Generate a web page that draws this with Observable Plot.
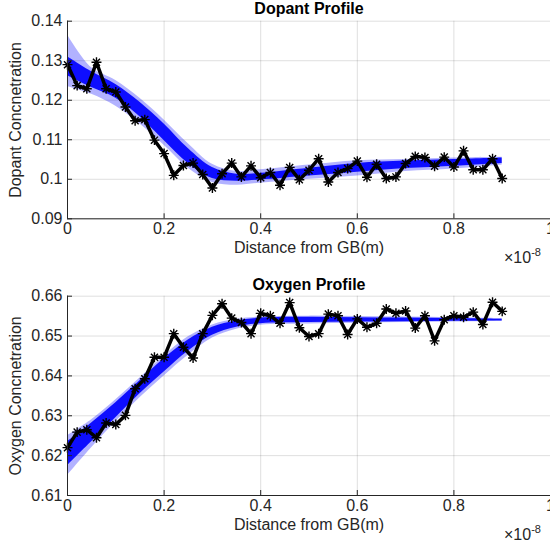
<!DOCTYPE html>
<html>
<head>
<meta charset="utf-8">
<script src="https://cdn.jsdelivr.net/npm/d3@7"></script>
<script src="https://cdn.jsdelivr.net/npm/@observablehq/plot@0.6"></script>
<style>
  html, body { margin: 0; padding: 0; background: #fff; overflow: hidden; }
  #root { position: relative; width: 550px; height: 546px; font-family: 'Liberation Sans', Arial, sans-serif; color: #262626; }
  .panel { position: absolute; left: 0; }
  .mult { position: absolute; font-size: 16px; line-height: 18px; white-space: nowrap; }
  .mult sup { font-size: 11px; vertical-align: 7px; line-height: 0; }
</style>
</head>
<body>
<div id="root"></div>
<script>
// ---------- data ----------
const xTicks = [0, 0.2, 0.4, 0.6, 0.8, 1];
const dopantTicks = [0.09, 0.10, 0.11, 0.12, 0.13, 0.14];
const oxygenTicks = [0.61, 0.62, 0.63, 0.64, 0.65, 0.66];

// measured positions (units of 1e-8 m)
const distance = [0, 0.02, 0.04, 0.06, 0.08, 0.10, 0.12, 0.14, 0.16, 0.18,
  0.20, 0.22, 0.24, 0.26, 0.28, 0.30, 0.32, 0.34, 0.36, 0.38,
  0.40, 0.42, 0.44, 0.46, 0.48, 0.50, 0.52, 0.54, 0.56, 0.58,
  0.60, 0.62, 0.64, 0.66, 0.68, 0.70, 0.72, 0.74, 0.76, 0.78,
  0.80, 0.82, 0.84, 0.86, 0.88, 0.90];

const dopantMeasured = [0.1290, 0.1237, 0.1229, 0.1296, 0.1229, 0.1221, 0.1183, 0.1148, 0.1151, 0.1099,
  0.1065, 0.1010, 0.1035, 0.1041, 0.1012, 0.0978, 0.1014, 0.1041, 0.1006, 0.1034,
  0.1004, 0.1017, 0.0985, 0.1030, 0.0999, 0.1023, 0.1052, 0.0993, 0.1017, 0.1027,
  0.1046, 0.1005, 0.1038, 0.1002, 0.1006, 0.1040, 0.1058, 0.1055, 0.1033, 0.1056,
  0.1031, 0.1072, 0.1024, 0.1024, 0.1052, 0.1002];

const oxygenMeasured = [0.6220, 0.6259, 0.6265, 0.6245, 0.6282, 0.6278, 0.6301, 0.6368, 0.6393, 0.6447,
  0.6447, 0.6506, 0.6472, 0.6445, 0.6506, 0.6552, 0.6581, 0.6545, 0.6534, 0.6506,
  0.6557, 0.6551, 0.6532, 0.6584, 0.6521, 0.6499, 0.6506, 0.6555, 0.6551, 0.6504,
  0.6543, 0.6522, 0.6532, 0.6568, 0.6557, 0.6563, 0.6520, 0.6551, 0.6488, 0.6541,
  0.6551, 0.6547, 0.6560, 0.6529, 0.6585, 0.6562];

// fitted-profile envelope (blue bundle)
const fitX = [0, 0.05, 0.10, 0.15, 0.20, 0.25, 0.30, 0.35, 0.40, 0.50, 0.60, 0.70, 0.80, 0.90];

const dopantOuterHi = [0.1365, 0.1282, 0.1250, 0.1205, 0.1150, 0.1090, 0.1038, 0.1020, 0.1024, 0.1036, 0.1047, 0.1050, 0.1054, 0.1056];
const dopantOuterLo = [0.1235, 0.1215, 0.1185, 0.1140, 0.1086, 0.1028, 0.0992, 0.0985, 0.0990, 0.1000, 0.1008, 0.1020, 0.1026, 0.1036];
const dopantInnerHi = [0.1310, 0.1272, 0.1240, 0.1195, 0.1140, 0.1078, 0.1030, 0.1013, 0.1015, 0.1028, 0.1040, 0.1046, 0.1050, 0.1054];
const dopantInnerLo = [0.1262, 0.1232, 0.1205, 0.1158, 0.1098, 0.1040, 0.1002, 0.0995, 0.0998, 0.1008, 0.1018, 0.1027, 0.1033, 0.1040];

const oxygenOuterHi = [0.6250, 0.6290, 0.6340, 0.6395, 0.6450, 0.6498, 0.6528, 0.6542, 0.6548, 0.6550, 0.6549, 0.6548, 0.6546, 0.6544];
const oxygenOuterLo = [0.6150, 0.6220, 0.6285, 0.6345, 0.6400, 0.6452, 0.6495, 0.6517, 0.6527, 0.6530, 0.6532, 0.6534, 0.6535, 0.6537];
const oxygenInnerHi = [0.6235, 0.6282, 0.6333, 0.6388, 0.6443, 0.6490, 0.6522, 0.6538, 0.6545, 0.6547, 0.6546, 0.6545, 0.6544, 0.6542];
const oxygenInnerLo = [0.6175, 0.6235, 0.6295, 0.6355, 0.6410, 0.6462, 0.6502, 0.6522, 0.6531, 0.6534, 0.6535, 0.6536, 0.6537, 0.6538];

const titles = ["Dopant Profile", "Oxygen Profile"];
const yLabels = ["Dopant Concnetration", "Oxygen Concnetration"];
const xLabel = "Distance from GB(m)";

// ---------- drawing ----------
const AX = "#262626";
const FONT = "'Liberation Sans', Arial, sans-serif";

function panel({title, ylabel, yTicks, values, oHi, oLo, iHi, iLo, height, marginTop, marginBottom, titleDy}) {
  const pts = distance.map((x, i) => ({x, y: values[i]}));
  const fit = fitX.map((x, i) => ({x, lo: oLo[i], hi: oHi[i], ilo: iLo[i], ihi: iHi[i]}));
  const fmt = d => String(Math.round(d * 1000) / 1000);
  return Plot.plot({
    width: 550,
    height,
    marginLeft: 67,
    marginRight: 0,
    marginTop,
    marginBottom,
    style: {fontFamily: FONT, fontSize: "16px", color: AX, background: "transparent", overflow: "visible"},
    x: {domain: [xTicks[0], xTicks[xTicks.length - 1]]},
    y: {domain: [yTicks[0], yTicks[yTicks.length - 1]]},
    marks: [
      Plot.gridX(xTicks, {stroke: AX, strokeOpacity: 0.15}),
      Plot.gridY(yTicks, {stroke: AX, strokeOpacity: 0.15}),
      Plot.areaY(fit, {x: "x", y1: "lo", y2: "hi", fill: "#0000ff", fillOpacity: 0.3, curve: "catmull-rom"}),
      Plot.areaY(fit, {x: "x", y1: "ilo", y2: "ihi", fill: "#0000ff", fillOpacity: 0.92, curve: "catmull-rom"}),
      Plot.line(pts, {x: "x", y: "y", stroke: "black", strokeWidth: 3.5, strokeLinejoin: "round"}),
      Plot.dot(pts, {x: "x", y: "y", symbol: "plus", r: 3.3, stroke: "black", strokeWidth: 1.4}),
      Plot.dot(pts, {x: "x", y: "y", symbol: "times", r: 3.3, stroke: "black", strokeWidth: 1.4}),
      Plot.ruleX([xTicks[0]], {stroke: AX, strokeWidth: 1}),
      Plot.ruleY([yTicks[0]], {stroke: AX, strokeWidth: 1}),
      Plot.axisX(xTicks, {
        tickSize: -5, tickPadding: 9, tickFormat: fmt, fontSize: 16,
        label: xLabel, labelAnchor: "center", labelOffset: 34, labelArrow: "none"
      }),
      Plot.axisY(yTicks, {
        tickSize: -5, tickPadding: 10, tickFormat: fmt, fontSize: 16,
        label: ylabel, labelAnchor: "center", labelOffset: 58, labelArrow: "none"
      }),
      Plot.text([title], {frameAnchor: "top", lineAnchor: "middle", dy: titleDy, fontWeight: "bold", fontSize: 16, fill: "black"})
    ]
  });
}

const root = document.getElementById("root");

const top1 = panel({
  title: titles[0], ylabel: yLabels[0], yTicks: dopantTicks, values: dopantMeasured,
  oHi: dopantOuterHi, oLo: dopantOuterLo, iHi: dopantInnerHi, iLo: dopantInnerLo,
  height: 273, marginTop: 20.7, marginBottom: 54.7, titleDy: -12.5
});
top1.classList.add("panel");
top1.style.top = "0px";
root.appendChild(top1);

const bot1 = panel({
  title: titles[1], ylabel: yLabels[1], yTicks: oxygenTicks, values: oxygenMeasured,
  oHi: oxygenOuterHi, oLo: oxygenOuterLo, iHi: oxygenInnerHi, iLo: oxygenInnerLo,
  height: 273, marginTop: 22.7, marginBottom: 51, titleDy: -11
});
bot1.classList.add("panel");
bot1.style.top = "273px";
root.appendChild(bot1);

for (const t of [249, 526]) {
  const m = document.createElement("div");
  m.className = "mult";
  m.style.left = "504px";
  m.style.top = t + "px";
  m.innerHTML = "×10<sup>-8</sup>";
  root.appendChild(m);
}
</script>
</body>
</html>
